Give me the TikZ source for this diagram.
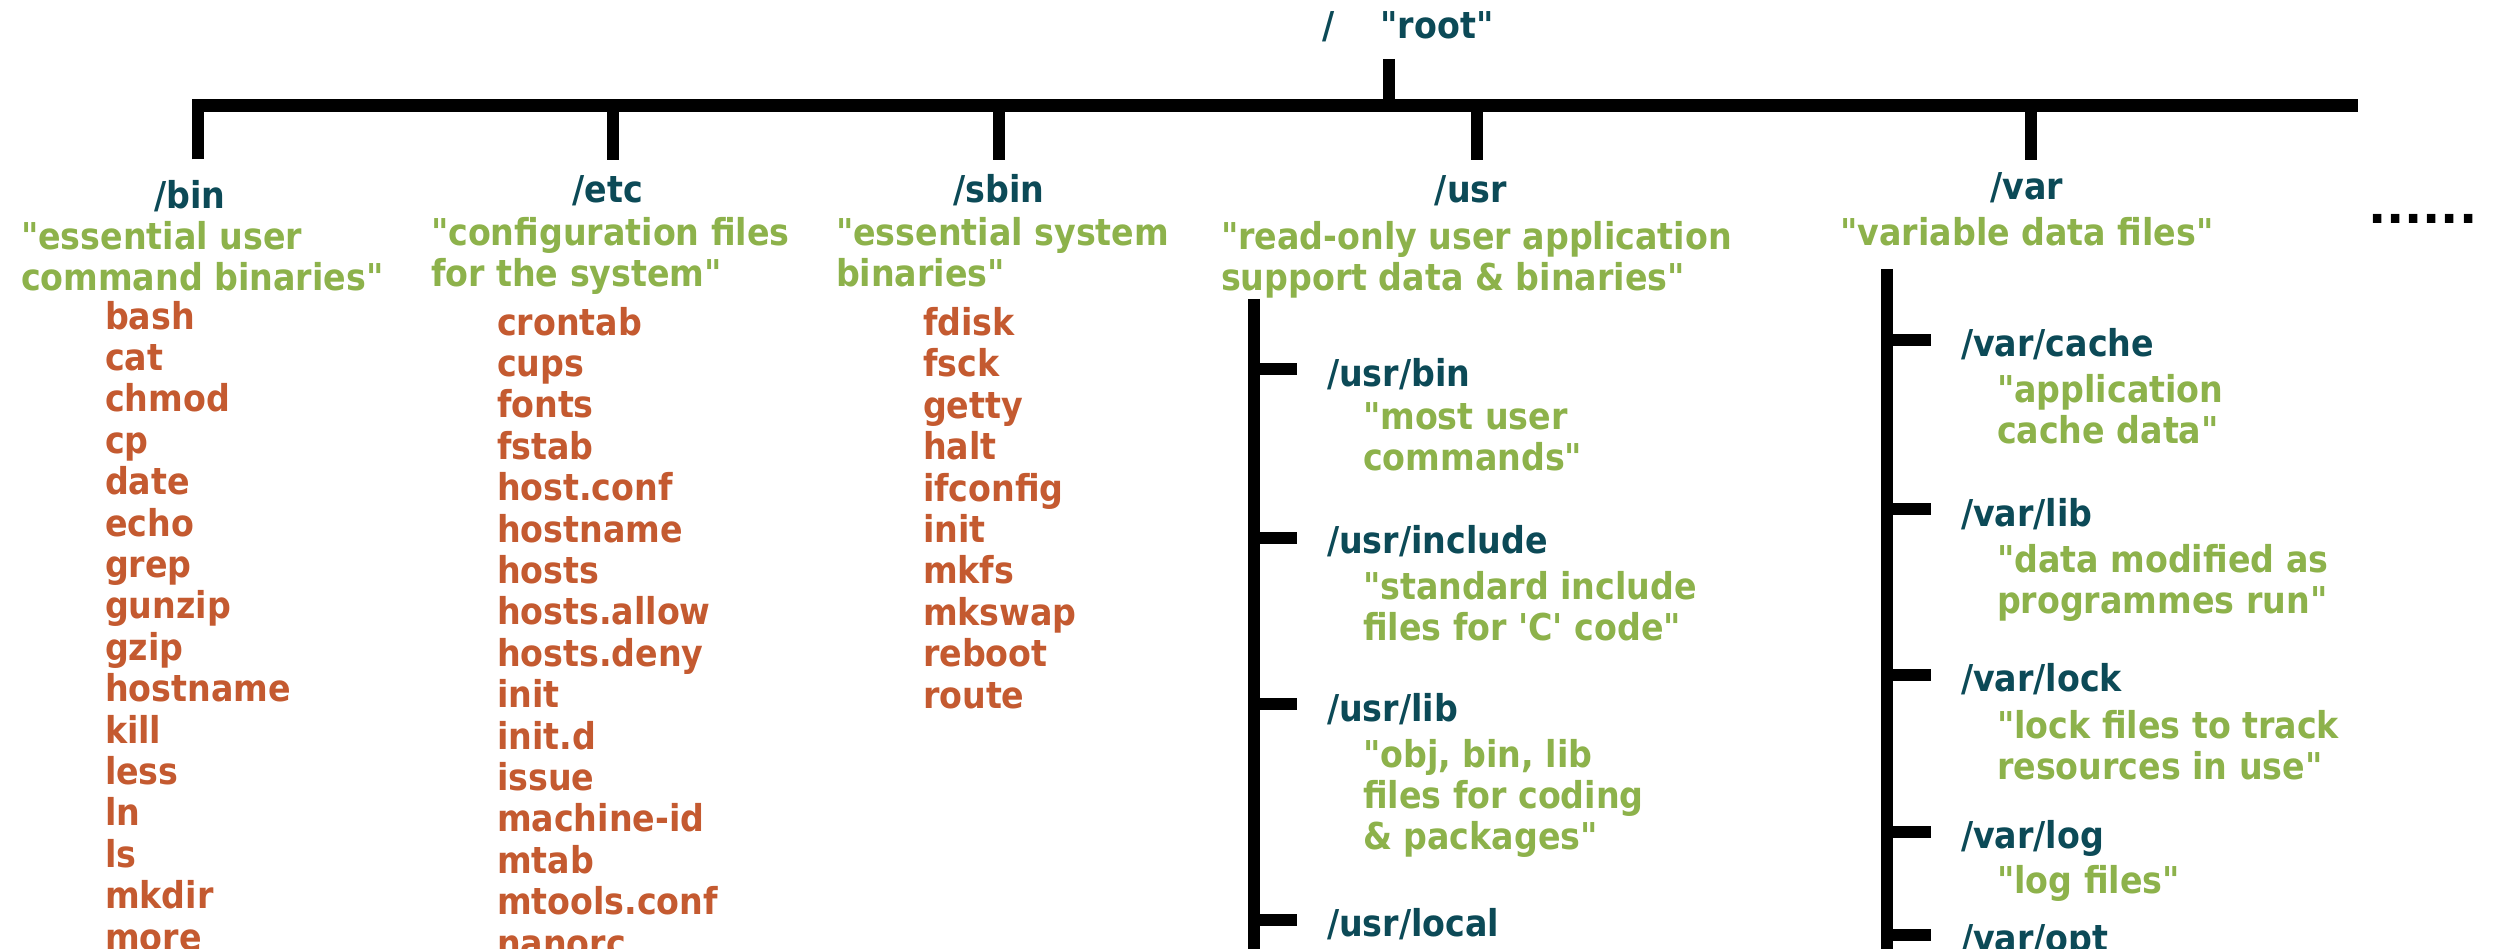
\documentclass[tikz,border=0pt]{standalone}
% Raw XeTeX fonts: no TeX ligature mapping, so " and ' stay straight
\font\cbfont="DejaVu Sans Condensed Bold" at 37pt
\font\dotsfont="DejaVu Sans Bold" at 48pt
\definecolor{dirteal}{HTML}{0C4A57}
\definecolor{descgreen}{HTML}{8DB24B}
\definecolor{filerust}{HTML}{C45A30}
\begin{document}
% Multi-line nodes are placed by the baseline of their LAST line (base anchor).
\begin{tikzpicture}[x=1pt,y=-1pt,
  every node/.style={inner sep=0pt,outer sep=0pt},
  dirname/.style={font={\cbfont\baselineskip=41pt},text=dirteal},
  desc/.style={font={\cbfont\baselineskip=41pt},text=descgreen,align=left},
  files/.style={font={\cbfont\baselineskip=41.4pt},text=filerust,align=left},
  ellipsis/.style={font=\dotsfont,text=black},
  bus/.style={line width=12.5pt,line cap=butt,line join=miter,draw=black}]

\useasboundingbox (0,0) rectangle (2496,949);
\clip (0,0) rectangle (2496,949);
\fill[white] (0,0) rectangle (2496,949);

% ---------- root ----------
\node[dirname,anchor=base] (slash) at (1329,39) {/};
\node[dirname,anchor=base] (root) at (1437,39) {"root"};
\coordinate (root-stem) at (1389,59);
\coordinate (busL) at (198,105.5);
\coordinate (busR) at (2358,105.5);

% ---------- top-level directories ----------
\node[dirname,anchor=base] (bin)  at (190,209)  {/bin};
\node[dirname,anchor=base] (etc)  at (608,203)  {/etc};
\node[dirname,anchor=base] (sbin) at (999,203)  {/sbin};
\node[dirname,anchor=base] (usr)  at (1471,203) {/usr};
\node[dirname,anchor=base] (var)  at (2027,200) {/var};

\coordinate (bin-drop)  at (198,159.5);
\coordinate (etc-drop)  at (613,160.5);
\coordinate (sbin-drop) at (999,160.5);
\coordinate (usr-drop)  at (1477,160.5);
\coordinate (var-drop)  at (2031,160.5);

\draw[bus] (bin-drop) -- (bin-drop |- busL) -- (busR);
\draw[bus] (root-stem) -- (root-stem |- busL);
\draw[bus] (etc-drop |- busL) -- (etc-drop);
\draw[bus] (sbin-drop |- busL) -- (sbin-drop);
\draw[bus] (usr-drop |- busL) -- (usr-drop);
\draw[bus] (var-drop |- busL) -- (var-drop);

\node[ellipsis,anchor=base west] (more) at (2368,224) {......};

% ---------- descriptions ----------
\node[desc,anchor=base west] (bin-desc)  at (21,291)   {"essential user\\command binaries"};
\node[desc,anchor=base west] (etc-desc)  at (431,287)  {"configuration files\\for the system"};
\node[desc,anchor=base west] (sbin-desc) at (836,287)  {"essential system\\binaries"};
\node[desc,anchor=base west] (usr-desc)  at (1221,291) {"read-only user application\\support data \& binaries"};
\node[desc,anchor=base]      (var-desc)  at (2027,246) {"variable data files"};

% ---------- file lists ----------
\node[files,anchor=base west] (bin-files) at (105,950) {bash\\cat\\chmod\\cp\\date\\echo\\grep\\gunzip\\gzip\\hostname\\kill\\less\\ln\\ls\\mkdir\\more};
\node[files,anchor=base west] (etc-files) at (497,956) {crontab\\cups\\fonts\\fstab\\host.conf\\hostname\\hosts\\hosts.allow\\hosts.deny\\init\\init.d\\issue\\machine-id\\mtab\\mtools.conf\\nanorc};
\node[files,anchor=base west] (sbin-files) at (923,708) {fdisk\\fsck\\getty\\halt\\ifconfig\\init\\mkfs\\mkswap\\reboot\\route};

% ---------- /usr subtree ----------
\coordinate (usr-trunk) at (1254,299);
\coordinate (usr-end) at (1254,960);
\draw[bus] (usr-trunk) -- (usr-end);
\coordinate (t-usrbin) at (1297,369);
\coordinate (t-usrinc) at (1297,538);
\coordinate (t-usrlib) at (1297,704);
\coordinate (t-usrloc) at (1297,920);
\foreach \t in {t-usrbin,t-usrinc,t-usrlib,t-usrloc}
  \draw[bus] (usr-trunk |- \t) -- (\t);

\node[dirname,anchor=base west] (usrbin) at (1327,386) {/usr/bin};
\node[desc,anchor=base west] (usrbin-desc) at (1363,470) {"most user\\commands"};
\node[dirname,anchor=base west] (usrinc) at (1327,553) {/usr/include};
\node[desc,anchor=base west] (usrinc-desc) at (1363,640) {"standard include\\files for 'C' code"};
\node[dirname,anchor=base west] (usrlib) at (1327,721) {/usr/lib};
\node[desc,anchor=base west] (usrlib-desc) at (1363,849) {"obj, bin, lib\\files for coding\\\& packages"};
\node[dirname,anchor=base west] (usrloc) at (1327,936) {/usr/local};

% ---------- /var subtree ----------
\coordinate (var-trunk) at (1887,269);
\coordinate (var-end) at (1887,960);
\draw[bus] (var-trunk) -- (var-end);
\coordinate (t-varcache) at (1931,340);
\coordinate (t-varlib)   at (1931,509);
\coordinate (t-varlock)  at (1931,675);
\coordinate (t-varlog)   at (1931,832);
\coordinate (t-varopt)   at (1931,935);
\foreach \t in {t-varcache,t-varlib,t-varlock,t-varlog,t-varopt}
  \draw[bus] (var-trunk |- \t) -- (\t);

\node[dirname,anchor=base west] (varcache) at (1961,356) {/var/cache};
\node[desc,anchor=base west] (varcache-desc) at (1997,443) {"application\\cache data"};
\node[dirname,anchor=base west] (varlib) at (1961,526) {/var/lib};
\node[desc,anchor=base west] (varlib-desc) at (1997,613) {"data modified as\\programmes run"};
\node[dirname,anchor=base west] (varlock) at (1961,691) {/var/lock};
\node[desc,anchor=base west] (varlock-desc) at (1997,779) {"lock files to track\\resources in use"};
\node[dirname,anchor=base west] (varlog) at (1961,848) {/var/log};
\node[desc,anchor=base west] (varlog-desc) at (1997,893) {"log files"};
\node[dirname,anchor=base west] (varopt) at (1961,951) {/var/opt};

\end{tikzpicture}
\end{document}
